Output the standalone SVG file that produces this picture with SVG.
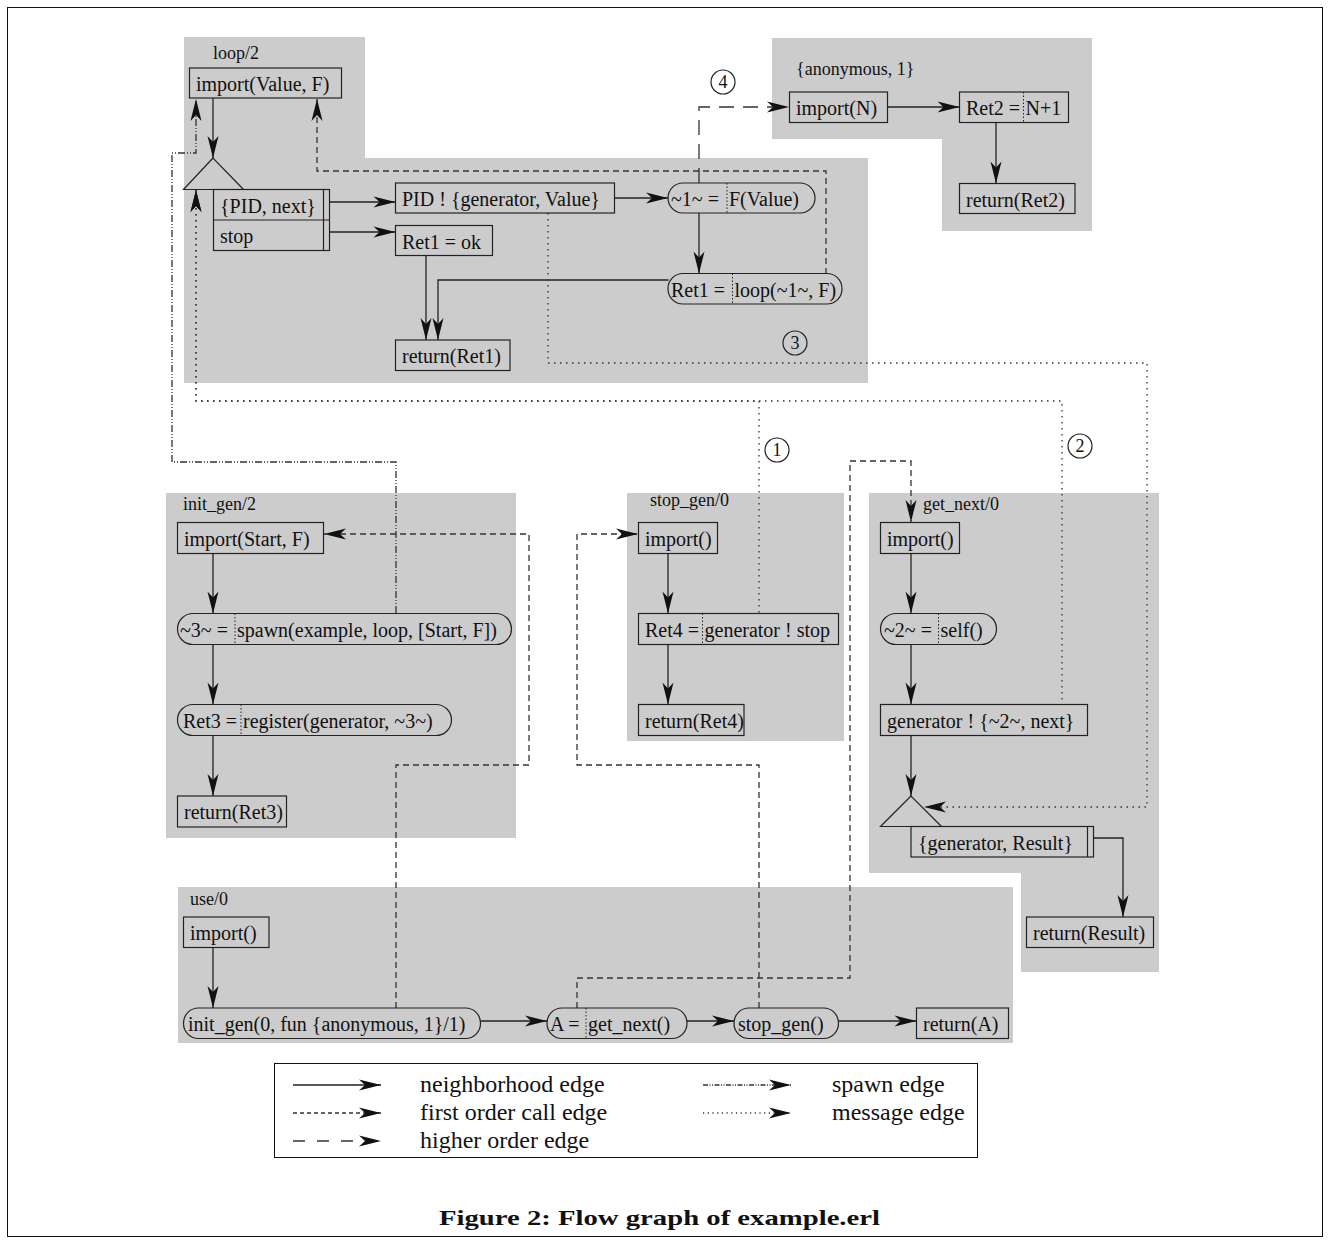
<svg xmlns="http://www.w3.org/2000/svg" width="1329" height="1243" viewBox="0 0 1329 1243">
<style>
.bg{fill:#ffffff}
.rg{fill:#cccccc}
.nd{fill:none;stroke:#222;stroke-width:1.2}
.tx{font-family:"Liberation Serif","Times New Roman",serif;font-size:20px;fill:#111}
.lb{font-family:"Liberation Serif","Times New Roman",serif;font-size:18px;fill:#111}
.lg{font-family:"Liberation Serif","Times New Roman",serif;font-size:24px;fill:#111}
.dv{stroke:#222;stroke-width:1;stroke-dasharray:1.5,2}
.e{fill:none;stroke:#222;stroke-width:1.3}
.fo{stroke:#333;stroke-dasharray:6,4}
.ho{stroke:#333;stroke-dasharray:15,9}
.sp{stroke:#333;stroke-dasharray:7,2,1,2,1,2}
.ms{stroke:#333;stroke-dasharray:1.5,4.5}
.cn{fill:none;stroke:#222;stroke-width:1.2}
.cnt{font-family:"Liberation Serif","Times New Roman",serif;font-size:18px;fill:#111;text-anchor:middle}
</style>
<defs>
<marker id="ah" viewBox="-23 -6 24 12" refX="0" refY="0" markerWidth="24" markerHeight="12" markerUnits="userSpaceOnUse" orient="auto-start-reverse">
<path d="M0,0 L-22,-5.5 L-16,0 L-22,5.5 Z" fill="#111" stroke="none"/>
</marker>
</defs>
<rect class="bg" x="0" y="0" width="1329" height="1243"/>
<rect x="7.5" y="7.5" width="1315" height="1229" fill="none" stroke="#111" stroke-width="1"/>

<g id="regions">
<polygon id="r_loop" class="rg" points="184,37 365,37 365,158 868,158 868,383 184,383"/>
<polygon id="r_anon" class="rg" points="772,38 1092,38 1092,231 942,231 942,139 772,139"/>
<rect id="r_init" class="rg" x="166" y="493" width="350" height="345"/>
<rect id="r_stop" class="rg" x="627" y="493" width="217" height="248"/>
<polygon id="r_next" class="rg" points="869,493 1159,493 1159,972 1021,972 1021,873 869,873"/>
<rect id="r_use" class="rg" x="178" y="887" width="835" height="156"/>
<text class="lb" x="213" y="59">loop/2</text>
<text class="lb" x="796" y="75">{anonymous, 1}</text>
<text class="lb" x="183" y="510">init_gen/2</text>
<text class="lb" x="650" y="506">stop_gen/0</text>
<text class="lb" x="923" y="510">get_next/0</text>
<text class="lb" x="190" y="905">use/0</text>
</g>

<g id="connectors">
<!-- neighborhood edges -->
<path class="e" d="M213,98 V158" marker-end="url(#ah)"/>
<path class="e" d="M329.5,202 H395.5" marker-end="url(#ah)"/>
<path class="e" d="M329.5,232 H395.5" marker-end="url(#ah)"/>
<path class="e" d="M614.5,198 H668" marker-end="url(#ah)"/>
<path class="e" d="M699,213 V273.5" marker-end="url(#ah)"/>
<path class="e" d="M426,255.5 V340" marker-end="url(#ah)"/>
<path class="e" d="M668.5,280 H438 V340" marker-end="url(#ah)"/>
<path class="e" d="M887.5,107 H959.5" marker-end="url(#ah)"/>
<path class="e" d="M996,122.5 V183.5" marker-end="url(#ah)"/>
<path class="e" d="M213,553.5 V613.5" marker-end="url(#ah)"/>
<path class="e" d="M213,644.5 V704.5" marker-end="url(#ah)"/>
<path class="e" d="M213,735.5 V796" marker-end="url(#ah)"/>
<path class="e" d="M668,553.5 V613.5" marker-end="url(#ah)"/>
<path class="e" d="M668,644.5 V704.5" marker-end="url(#ah)"/>
<path class="e" d="M911,553.5 V613.5" marker-end="url(#ah)"/>
<path class="e" d="M911,644.5 V704.5" marker-end="url(#ah)"/>
<path class="e" d="M911,735.5 V796" marker-end="url(#ah)"/>
<path class="e" d="M1093.5,838 H1123 V917" marker-end="url(#ah)"/>
<path class="e" d="M213,947.5 V1008" marker-end="url(#ah)"/>
<path class="e" d="M480.5,1021 H547" marker-end="url(#ah)"/>
<path class="e" d="M687,1021 H734" marker-end="url(#ah)"/>
<path class="e" d="M838.5,1021 H916.5" marker-end="url(#ah)"/>
<!-- first order call edges -->
<path class="e fo" d="M826,274 V171 H317 V99" marker-end="url(#ah)"/>
<path class="e fo" d="M396,1008 V765 H529 V534 H324" marker-end="url(#ah)"/>
<path class="e fo" d="M577,1008 V978 H850 V461 H911 V522" marker-end="url(#ah)"/>
<path class="e fo" d="M759,1008 V765 H577 V534 H638" marker-end="url(#ah)"/>
<!-- higher order edge -->
<path class="e ho" d="M699,183 V107 H789" marker-end="url(#ah)"/>
<!-- spawn edge -->
<path class="e sp" d="M396,613 V462 H172 V153 H196 V99" marker-end="url(#ah)"/>
<!-- message edges -->
<path class="e ms" d="M548,213 V363 H1147 V807 H924" marker-end="url(#ah)"/>
<path class="e ms" d="M196,190 V401 H759 V613" marker-start="url(#ah)"/>
<path class="e ms" d="M196,190 V401 H1062 V704" marker-start="url(#ah)"/>
<!-- edge labels -->
<circle class="cn" cx="723" cy="82" r="12"/><text class="cnt" x="723" y="88">4</text>
<circle class="cn" cx="795" cy="343" r="12"/><text class="cnt" x="795" y="349">3</text>
<circle class="cn" cx="777" cy="450" r="12"/><text class="cnt" x="777" y="456">1</text>
<circle class="cn" cx="1080" cy="446" r="12"/><text class="cnt" x="1080" y="452">2</text>
</g>

<g id="n_loop_import"><rect class="nd" x="189.5" y="68" width="152" height="30"/><text class="tx" x="196" y="91">import(Value, F)</text></g>
<g id="n_loop_receive">
<polygon class="nd" points="213,158 183.5,189.5 243.5,189.5"/>
<rect class="nd" x="213.5" y="189.5" width="116" height="61"/>
<line class="nd" x1="213.5" y1="220" x2="329.5" y2="220"/>
<line class="nd" x1="323.5" y1="189.5" x2="323.5" y2="250.5"/>
<text class="tx" x="220" y="212.5">{PID, next}</text>
<text class="tx" x="220" y="243">stop</text>
</g>
<g id="n_loop_send"><rect class="nd" x="395.5" y="183" width="219" height="30"/><text class="tx" x="402" y="206">PID ! {generator, Value}</text></g>
<g id="n_loop_call1"><rect class="nd" x="668" y="183" width="147" height="30" rx="15"/><line class="dv" x1="727" y1="183" x2="727" y2="213"/><text class="tx" x="671" y="206">~1~ =</text><text class="tx" x="729" y="206">F(Value)</text></g>
<g id="n_loop_call2"><rect class="nd" x="668" y="273.5" width="174" height="30.5" rx="15"/><line class="dv" x1="732.5" y1="273.5" x2="732.5" y2="304"/><text class="tx" x="671" y="296.5">Ret1 =</text><text class="tx" x="734.5" y="296.5">loop(~1~, F)</text></g>
<g id="n_loop_ok"><rect class="nd" x="395.5" y="225.5" width="97" height="30"/><text class="tx" x="402" y="248.5">Ret1 = ok</text></g>
<g id="n_loop_return"><rect class="nd" x="395.5" y="340" width="114.5" height="30.5"/><text class="tx" x="402" y="363">return(Ret1)</text></g>

<g id="n_anon_import"><rect class="nd" x="789.5" y="92" width="98" height="30.5"/><text class="tx" x="796" y="115">import(N)</text></g>
<g id="n_anon_ret2"><rect class="nd" x="959.5" y="92" width="109" height="30.5"/><line class="dv" x1="1023.5" y1="92" x2="1023.5" y2="122.5"/><text class="tx" x="966" y="115">Ret2 =</text><text class="tx" x="1025.5" y="115">N+1</text></g>
<g id="n_anon_return"><rect class="nd" x="959.5" y="183.5" width="115.5" height="30"/><text class="tx" x="966" y="206.5">return(Ret2)</text></g>

<g id="n_init_import"><rect class="nd" x="177.5" y="522.5" width="146" height="31"/><text class="tx" x="184" y="546">import(Start, F)</text></g>
<g id="n_init_spawn"><rect class="nd" x="177.5" y="613.5" width="334" height="31" rx="15.5"/><line class="dv" x1="235" y1="613.5" x2="235" y2="644.5"/><text class="tx" x="180" y="637">~3~ =</text><text class="tx" x="237" y="637">spawn(example, loop, [Start, F])</text></g>
<g id="n_init_register"><rect class="nd" x="177.5" y="704.5" width="274" height="31" rx="15.5"/><line class="dv" x1="241" y1="704.5" x2="241" y2="735.5"/><text class="tx" x="183" y="728">Ret3 =</text><text class="tx" x="243" y="728">register(generator, ~3~)</text></g>
<g id="n_init_return"><rect class="nd" x="177.5" y="796" width="109" height="31"/><text class="tx" x="184" y="819">return(Ret3)</text></g>

<g id="n_stop_import"><rect class="nd" x="638.5" y="522.5" width="79" height="31"/><text class="tx" x="645" y="546">import()</text></g>
<g id="n_stop_send"><rect class="nd" x="638.5" y="613.5" width="200" height="31"/><line class="dv" x1="702.5" y1="613.5" x2="702.5" y2="644.5"/><text class="tx" x="645" y="637">Ret4 =</text><text class="tx" x="704.5" y="637">generator ! stop</text></g>
<g id="n_stop_return"><rect class="nd" x="638.5" y="704.5" width="105.5" height="31"/><text class="tx" x="645" y="728">return(Ret4)</text></g>

<g id="n_next_import"><rect class="nd" x="880.5" y="522.5" width="79" height="31"/><text class="tx" x="887" y="546">import()</text></g>
<g id="n_next_self"><rect class="nd" x="880.5" y="613.5" width="116" height="31" rx="15.5"/><line class="dv" x1="938.5" y1="613.5" x2="938.5" y2="644.5"/><text class="tx" x="884" y="637">~2~ =</text><text class="tx" x="940.5" y="637">self()</text></g>
<g id="n_next_send"><rect class="nd" x="880.5" y="704.5" width="207" height="31"/><text class="tx" x="887" y="728">generator ! {~2~, next}</text></g>
<g id="n_next_receive">
<polygon class="nd" points="911,796 880.5,826.5 941.5,826.5"/>
<rect class="nd" x="911" y="826.5" width="182.5" height="30.5"/>
<line class="nd" x1="1087.5" y1="826.5" x2="1087.5" y2="857"/>
<text class="tx" x="918" y="849.5">{generator, Result}</text>
</g>
<g id="n_next_return"><rect class="nd" x="1026.5" y="917" width="127" height="30.5"/><text class="tx" x="1033" y="940">return(Result)</text></g>

<g id="n_use_import"><rect class="nd" x="183.5" y="917" width="85.5" height="30.5"/><text class="tx" x="190" y="940">import()</text></g>
<g id="n_use_init"><rect class="nd" x="183.5" y="1008" width="297" height="30.5" rx="15"/><text class="tx" x="188" y="1031">init_gen(0, fun {anonymous, 1}/1)</text></g>
<g id="n_use_getnext"><rect class="nd" x="547" y="1008" width="140" height="30.5" rx="15"/><line class="dv" x1="586" y1="1008" x2="586" y2="1038.5"/><text class="tx" x="550" y="1031">A =</text><text class="tx" x="588" y="1031">get_next()</text></g>
<g id="n_use_stop"><rect class="nd" x="734" y="1008" width="104.5" height="30.5" rx="15"/><text class="tx" x="738" y="1031">stop_gen()</text></g>
<g id="n_use_return"><rect class="nd" x="916.5" y="1008" width="92" height="30.5"/><text class="tx" x="923" y="1031">return(A)</text></g>

<g id="legend">
<rect x="274.5" y="1063.5" width="703" height="94" fill="none" stroke="#111" stroke-width="1"/>
<path class="e" d="M293,1085 H381" marker-end="url(#ah)"/>
<text class="lg" x="420" y="1092">neighborhood edge</text>
<path class="e" d="M293,1113 H381" style="stroke:#333;stroke-dasharray:4,3" marker-end="url(#ah)"/>
<text class="lg" x="420" y="1120">first order call edge</text>
<path class="e" d="M293,1141 H381" style="stroke:#333;stroke-dasharray:12,12" marker-end="url(#ah)"/>
<text class="lg" x="420" y="1148">higher order edge</text>
<path class="e" d="M703,1085 H791" style="stroke:#333;stroke-dasharray:5,1.5,1,1.5,1,1.5" marker-end="url(#ah)"/>
<text class="lg" x="832" y="1092">spawn edge</text>
<path class="e" d="M703,1113 H791" style="stroke:#333;stroke-dasharray:1.2,3.5" marker-end="url(#ah)"/>
<text class="lg" x="832" y="1120">message edge</text>
</g>

<text x="439" y="1225" font-family="'Liberation Serif','Times New Roman',serif" font-weight="bold" font-size="22" textLength="441" lengthAdjust="spacingAndGlyphs" fill="#111">Figure 2:  Flow graph of example.erl</text>
</svg>
